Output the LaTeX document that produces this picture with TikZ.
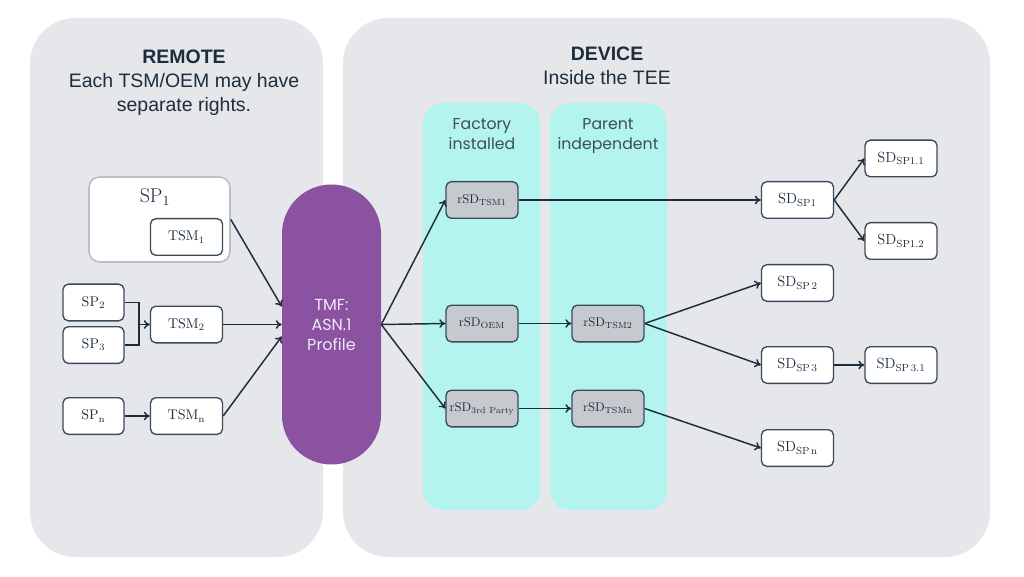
\documentclass[tikz,border=0pt]{standalone}
\usepackage{fontspec}
\usepackage{tikz}
\usetikzlibrary{calc,arrows.meta}
\usepackage{xcolor}
\newfontfamily\headfont{Liberation Sans}
\newfontfamily\roundfont{Poppins}
\definecolor{panelgray}{HTML}{E5E7EB}
\definecolor{teecyan}{HTML}{B3F5EE}
\definecolor{tmfpurple}{HTML}{8A52A0}
\definecolor{tmftext}{HTML}{F2E8F5}
\definecolor{inkblue}{HTML}{1E2D3D}
\definecolor{boxline}{HTML}{3A4A5A}
\definecolor{rsdgray}{HTML}{C6CACF}
\definecolor{spline}{HTML}{B8BFC7}

\begin{document}
\begin{tikzpicture}[x=0.75pt,y=-0.75pt,
  conn/.style={draw=inkblue, line width=1.1pt, -{To[length=4.5pt,width=6.5pt]}},
  plainbox/.style={draw=boxline, line width=1pt, fill=white, rounded corners=4pt,
    minimum width=54pt, minimum height=27.5pt, inner sep=1pt, text=inkblue,
    font=\fontsize{10.5}{12}\selectfont},
  rsdbox/.style={plainbox, fill=rsdgray, font=\fontsize{9.5}{11}\selectfont},
  sdbox/.style={plainbox, font=\fontsize{11}{13}\selectfont},
  headtext/.style={text=inkblue, align=center, font=\headfont\fontsize{14.6}{18}\selectfont},
  coltext/.style={text=inkblue!85, align=center, anchor=base, font=\roundfont\fontsize{11.8}{15}\selectfont}
]
\useasboundingbox (0,0) rectangle (1024,577);

% Panels
\fill[panelgray, rounded corners=34pt] (30,18) rectangle (323,557);
\fill[panelgray, rounded corners=34pt] (343,18) rectangle (990,557);
\fill[teecyan, rounded corners=15pt] (423,103) rectangle (540,510);
\fill[teecyan, rounded corners=15pt] (550,103) rectangle (667,510);

% Headings
\node[headtext] (remote) at (184,83) {\textbf{REMOTE}\\Each TSM/OEM may have\\separate rights.};
\node[headtext] (device) at (607,66) {\textbf{DEVICE}\\Inside the TEE};
\node[coltext] (factory) at (482,150) {Factory\\installed};
\node[coltext] (parent) at (608,150) {Parent\\independent};

% Remote side
\node[draw=spline, line width=1.2pt, fill=white, rounded corners=8pt,
  minimum width=105.75pt, minimum height=63.75pt] (sp1) at (159.5,219.5) {};
\node[text=inkblue, font=\fontsize{15}{17}\selectfont] (sp1lbl) at (155,197) {SP\textsubscript{1}};
\node[plainbox] (tsm1) at (186.5,237) {TSM\textsubscript{1}};
\node[plainbox, minimum width=45.75pt] (sp2) at (93.5,302.5) {SP\textsubscript{2}};
\node[plainbox, minimum width=45.75pt] (sp3) at (93.5,345) {SP\textsubscript{3}};
\node[plainbox] (tsm2) at (186.5,324.5) {TSM\textsubscript{2}};
\node[plainbox, minimum width=45.75pt] (spn) at (93.5,416) {SP\textsubscript{n}};
\node[plainbox] (tsmn) at (186.5,416) {TSM\textsubscript{n}};
\coordinate (join) at (139,324.5);

% TMF profile
\node[fill=tmfpurple, rounded corners=37pt, minimum width=74.25pt, minimum height=210pt,
  text=tmftext, align=center, font=\roundfont\fontsize{12}{15}\selectfont] (tmf) at (331.5,324.5)
  {TMF:\\ASN.1\\Profile};

% Device side
\node[rsdbox] (rtsm1) at (482,200) {rSD\textsubscript{TSM1}};
\node[rsdbox] (roem) at (482,323.5) {rSD\textsubscript{OEM}};
\node[rsdbox] (rthird) at (482,408.5) {rSD\textsubscript{3rd Party}};
\node[rsdbox] (rtsm2) at (608,323.5) {rSD\textsubscript{TSM2}};
\node[rsdbox] (rtsmn) at (608,408.5) {rSD\textsubscript{TSMn}};

\node[sdbox] (sdsp1) at (797.5,200) {SD\textsubscript{SP1}};
\node[sdbox] (sdsp11) at (901,158.5) {SD\textsubscript{SP1.1}};
\node[sdbox] (sdsp12) at (901,241) {SD\textsubscript{SP1.2}};
\node[sdbox] (sdsp2) at (797.5,283) {SD\textsubscript{SP\,2}};
\node[sdbox] (sdsp3) at (797.5,365) {SD\textsubscript{SP\,3}};
\node[sdbox] (sdsp31) at (901,365) {SD\textsubscript{SP\,3.1}};
\node[sdbox] (sdspn) at (797.5,448) {SD\textsubscript{SP\,n}};

% Connectors
\draw[inkblue, line width=1.1pt] (sp2.east) -| (join) |- (sp3.east);
\draw[conn] (join) -- (tsm2.west);
\draw[conn] (spn) -- (tsmn);
\draw[conn] (sp1.east) -- ($(tmf.west)+(0,-18)$);
\draw[conn] (tsm2) -- (tmf.west);
\draw[conn] (tsmn.east) -- ($(tmf.west)+(0,12)$);
\draw[conn] (tmf.east) -- (rtsm1.west);
\draw[conn] (tmf.east) -- (roem.west);
\draw[conn] (tmf.east) -- (rthird.west);
\draw[conn] (roem) -- (rtsm2);
\draw[conn] (rthird) -- (rtsmn);
\draw[conn] (rtsm1) -- (sdsp1);
\draw[conn] (sdsp1.east) -- (sdsp11.west);
\draw[conn] (sdsp1.east) -- (sdsp12.west);
\draw[conn] (rtsm2.east) -- (sdsp2.west);
\draw[conn] (rtsm2.east) -- (sdsp3.west);
\draw[conn] (rtsmn.east) -- (sdspn.west);
\draw[conn] (sdsp3) -- (sdsp31);
\end{tikzpicture}
\end{document}
